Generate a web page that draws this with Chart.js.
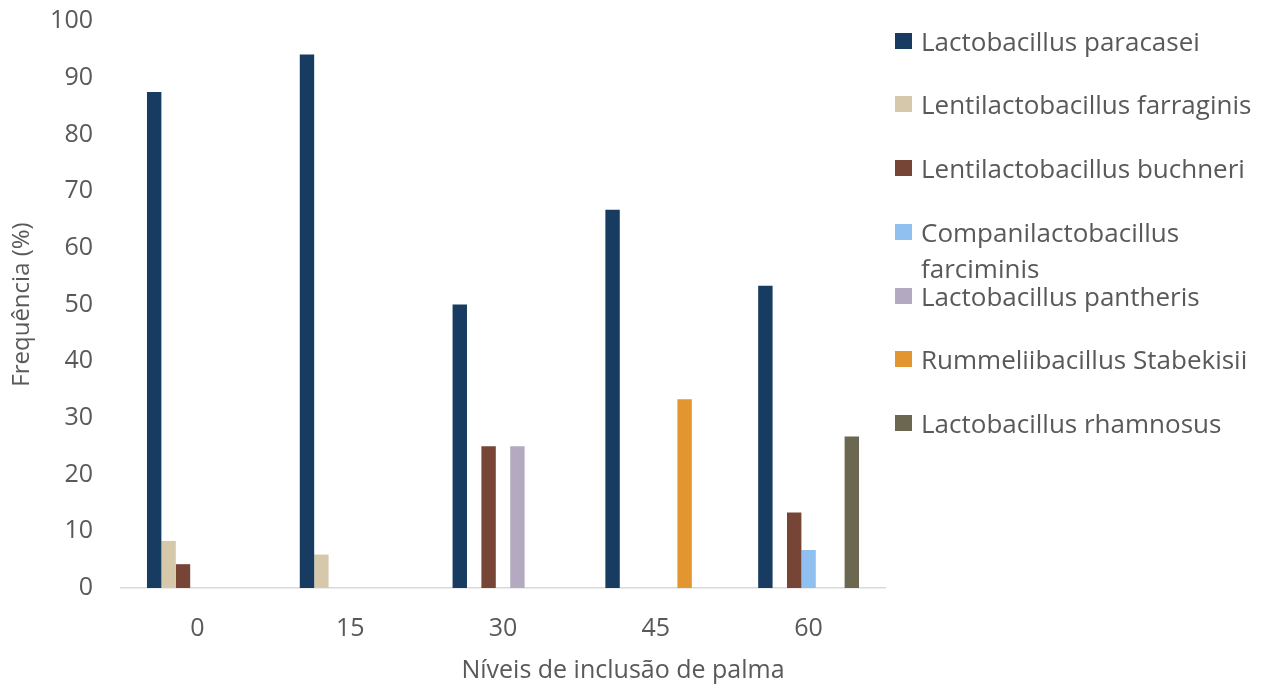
<!DOCTYPE html>
<html>
<head>
<meta charset="utf-8">
<script src="https://cdn.jsdelivr.net/npm/chart.js@4.4.1/dist/chart.umd.min.js"></script>
<style>
  html, body { margin: 0; padding: 0; background: #fff; }
  #wrap { position: relative; width: 1269px; height: 684px; font-family: "Open Sans", sans-serif; color: #595959; }
  #c { position: absolute; left: 0; top: 0; }
  #xtitle { position: absolute; left: 623px; top: 668px; transform: translate(-50%, -50%); font-size: 25px; white-space: nowrap; }
  .leg { position: absolute; left: 895px; width: 374px; font-size: 26px; line-height: 36px; }
  .leg .sw { position: absolute; left: 0; top: 10px; width: 17px; height: 16px; }
  .leg .tx { position: absolute; left: 26px; top: 0; width: 345px; }
</style>
</head>
<body>
<div id="wrap">
  <canvas id="c" width="1269" height="684"></canvas>
  <div id="xtitle"></div>
  <div id="legend"></div>
</div>
<script>
const categories = ["0", "15", "30", "45", "60"];
const seriesNames = [
  "Lactobacillus paracasei",
  "Lentilactobacillus farraginis",
  "Lentilactobacillus buchneri",
  "Companilactobacillus farciminis",
  "Lactobacillus pantheris",
  "Rummeliibacillus Stabekisii",
  "Lactobacillus rhamnosus"
];
const paracasei  = [87.5, 94.1, 50.0, 66.7, 53.3];
const farraginis = [8.3, 5.9, 0, 0, 0];
const buchneri   = [4.2, 0, 25.0, 0, 13.3];
const farciminis = [0, 0, 0, 0, 6.7];
const pantheris  = [0, 0, 25.0, 0, 0];
const stabekisii = [0, 0, 0, 33.3, 0];
const rhamnosus  = [0, 0, 0, 0, 26.7];
const seriesColors = ["#183b61", "#d6c9ab", "#774536", "#8fc0ef", "#b3a9c1", "#e3952f", "#6b6751"];
const yTicks = [0, 10, 20, 30, 40, 50, 60, 70, 80, 90, 100];
const yTitle = "Frequência (%)";
const xTitle = "Níveis de inclusão de palma";

const seriesValues = [paracasei, farraginis, buchneri, farciminis, pantheris, stabekisii, rhamnosus];

const datasets = seriesNames.map((n, i) => ({
  label: n,
  data: seriesValues[i],
  backgroundColor: seriesColors[i],
  borderWidth: 0,
  barPercentage: 1.0,
  categoryPercentage: 0.66
}));

const tickFont = { family: "'Open Sans', sans-serif", size: 25 };

new Chart(document.getElementById("c"), {
  type: "bar",
  data: { labels: categories, datasets },
  options: {
    responsive: false,
    animation: false,
    layout: { padding: { top: 0, right: 384, bottom: 0, left: 0 } },
    plugins: { legend: { display: false }, tooltip: { enabled: false } },
    scales: {
      x: {
        grid: { display: false, drawTicks: false },
        border: { display: true, color: "#d9d9d9", width: 1.5 },
        ticks: { color: "#595959", font: tickFont, padding: 26 },
        afterFit: (a) => { a.height = 96; a.paddingLeft = 0; a.paddingRight = 0; }
      },
      y: {
        min: 0, max: 100,
        afterBuildTicks: (a) => { a.ticks = yTicks.map(v => ({ value: v })); },
        grid: { display: false, drawTicks: false },
        border: { display: false },
        ticks: { color: "#595959", font: tickFont, padding: 28 },
        title: { display: true, text: yTitle, color: "#595959", font: { family: tickFont.family, size: 24 }, padding: { top: 8, bottom: 0 } },
        afterFit: (a) => { a.width = 121; a.paddingTop = 21; a.paddingBottom = 0; }
      }
    }
  }
});

document.getElementById("xtitle").textContent = xTitle;
const legend = document.getElementById("legend");
seriesNames.forEach((n, i) => {
  const d = document.createElement("div");
  d.className = "leg";
  d.style.top = (22.7 + i * 63.7) + "px";
  const sw = document.createElement("div");
  sw.className = "sw";
  sw.style.background = seriesColors[i];
  const tx = document.createElement("div");
  tx.className = "tx";
  tx.textContent = n;
  d.appendChild(sw);
  d.appendChild(tx);
  legend.appendChild(d);
});
</script>
</body>
</html>
